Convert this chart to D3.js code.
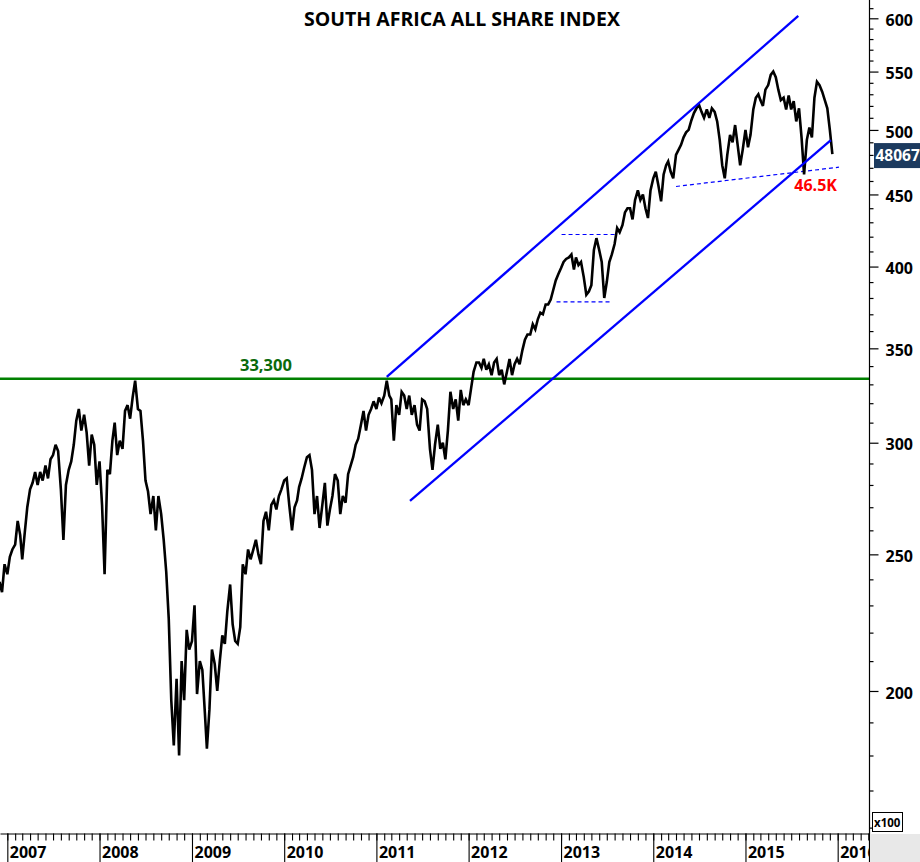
<!DOCTYPE html>
<html><head><meta charset="utf-8">
<script src="https://cdn.jsdelivr.net/npm/d3@7"></script>
<style>html,body{margin:0;padding:0;background:#fff;} svg{display:block;}</style>
</head><body>
<svg id="chart" width="920" height="862"></svg>
<script>
// ---------- DATA ----------
const title = "SOUTH AFRICA ALL SHARE INDEX";
// closes on the 1st, 11th and 21st of each month (index points)
const close2006 = [23900, 23500, 24600];                       // Dec 2006
const close2007 = [24200, 24900, 25200, 25400, 26400, 25800, 24800, 25900, 27000,
                   27800, 28100, 28600, 28000, 28600, 28200, 28900, 28300, 29200,
                   29400, 29900, 29600, 27800, 25600, 28000, 28700, 29100, 29900,
                   31100, 31700, 30600, 31400, 30500, 28900, 30400, 29900, 28000];
const close2008 = [29100, 27100, 24200, 28700, 28500, 30100, 31000, 29400, 30100,
                   29700, 31600, 31900, 31200, 32300, 33200, 31700, 31600, 30100,
                   28200, 27700, 26700, 27500, 26000, 27500, 26700, 25600, 24300,
                   22500, 19700, 18300, 20400, 18000, 21000, 19700, 22100, 21400];
const close2009 = [21700, 23000, 19900, 21000, 20700, 19300, 18200, 19400, 21400,
                   20900, 20000, 21000, 21900, 21600, 22800, 23800, 22300, 21700,
                   21600, 22200, 24600, 24200, 25200, 24800, 25200, 25600, 25000,
                   24600, 26400, 26800, 26000, 27100, 27300, 26900, 27500, 27800];
const close2010 = [28200, 28300, 27100, 26000, 27000, 27300, 27900, 28300, 28800,
                   29300, 29400, 28700, 26700, 27500, 26100, 27100, 28100, 26200,
                   26900, 27500, 28500, 28200, 26700, 27500, 27200, 28500, 28900,
                   29300, 29900, 30200, 30900, 31600, 30600, 31400, 31700, 32100];
const close2011 = [31700, 32300, 32000, 32400, 33200, 32400, 32200, 30100, 31900,
                   31400, 32600, 32400, 31700, 32400, 31400, 31900, 30900, 30600,
                   32200, 32100, 31700, 29700, 28700, 29900, 30900, 29700, 30000,
                   29200, 30600, 32600, 31700, 32200, 31100, 32700, 31900, 32200];
const close2012 = [31900, 32800, 33700, 34200, 34200, 33900, 34400, 33800, 34100,
                   33500, 34200, 34400, 33500, 33800, 33000, 33700, 34400, 33500,
                   34100, 34400, 34100, 34900, 35500, 35800, 35800, 36400, 36100,
                   36700, 37100, 37000, 37600, 37600, 37900, 38500, 39100, 39500];
const close2013 = [39900, 40300, 40500, 40600, 40800, 39800, 40600, 40100, 40300,
                   39300, 38200, 38400, 38800, 41100, 41900, 41100, 40300, 38000,
                   39000, 40300, 40800, 41500, 42600, 42300, 42800, 43700, 44000,
                   44000, 43200, 44600, 45300, 44600, 45000, 44000, 43300, 45300];
const close2014 = [46200, 46700, 45700, 44500, 46500, 47200, 47500, 46700, 46200,
                   48000, 48400, 48800, 49400, 49800, 50000, 50800, 51400, 51800,
                   52100, 51500, 51000, 51700, 51000, 51800, 51500, 50700, 49200,
                   47200, 46200, 48000, 49600, 49000, 50400, 48800, 47200, 48400];
const close2015 = [50000, 48600, 49600, 51700, 52700, 53000, 52500, 52000, 53400,
                   53800, 54700, 55000, 54500, 53400, 52500, 52700, 51700, 52900,
                   51700, 52400, 50700, 51800, 49400, 46500, 49200, 50200, 49400,
                   52700, 54100, 53800, 53200, 52500, 51800, 50000];   // ... Dec 1
const lastDate = "2015-12-11";
const lastClose = 48067;

const yearLabels = ["2007","2008","2009","2010","2011","2012","2013","2014","2015","2016"];
const yMajorTicks = [200, 250, 300, 350, 400, 450, 500, 550, 600];   // x100
const yMinorTicks = [160,170,180,190,210,220,230,240,260,270,280,290,310,320,330,340,
                     360,370,380,390,410,420,430,440,460,470,480,490,510,520,530,540,560,570,580,590,610];
const unitLabel = "x100";

const resistanceLevel = 33300;
const resistanceLabel = "33,300";
const supportLabel = "46.5K";
const upperChannel = [["2011-02-11", 33400], ["2015-07-29", 60230]];
const lowerChannel = [["2011-05-14", 27280], ["2015-12-05", 49170]];
const supportDashed = [["2014-04-01", 45590], ["2016-01-06", 47050]];
const rangeTop2013 = [["2013-01-03", 42150], ["2013-08-02", 42150]];
const rangeBottom2013 = [["2012-12-14", 37760], ["2013-07-20", 37760]];

// ---------- BUILD SERIES ----------
const closes = [].concat(close2006, close2007, close2008, close2009, close2010,
                         close2011, close2012, close2013, close2014, close2015, [lastClose]);
const sampleDays = [1, 11, 21];
const dates = [];
{
  let y = 2006, m = 11;
  outer: while (true) {
    for (const d of sampleDays) {
      if (dates.length >= closes.length - 1) break outer;
      dates.push(new Date(Date.UTC(y, m, d)));
    }
    m++; if (m > 11) { m = 0; y++; }
  }
  dates.push(new Date(lastDate + "T00:00:00Z"));
}
const series = closes.map((v, i) => ({ date: dates[i], v }));
const parse = s => new Date(s + "T00:00:00Z");

// ---------- LAYOUT ----------
const W = 920, H = 862;
const plotR = 869, plotB = 833;
const FONT = "'Open Sans', 'DejaVu Sans', sans-serif";

const x = d3.scaleUtc()
  .domain([new Date(Date.UTC(2006, 11, 3)), new Date(Date.UTC(2016, 4, 4))])
  .range([0, plotR]);
const y = d3.scaleLog()
  .domain([15860, 61820])
  .range([plotB, 0]);

const svg = d3.select("#chart");
svg.append("rect").attr("width", W).attr("height", H).attr("fill", "#fff");

svg.append("defs").append("clipPath").attr("id", "plotclip")
  .append("rect").attr("x", 0).attr("y", 0).attr("width", plotR).attr("height", plotB);

const plot = svg.append("g").attr("clip-path", "url(#plotclip)");

// resistance line
plot.append("line")
  .attr("x1", 0).attr("x2", plotR)
  .attr("y1", y(resistanceLevel)).attr("y2", y(resistanceLevel))
  .attr("stroke", "#008000").attr("stroke-width", 2.5);

// dashed lines
const segLine = d3.line().x(d => x(parse(d[0]))).y(d => y(d[1]));
[supportDashed, rangeTop2013, rangeBottom2013].forEach(seg => {
  plot.append("path").attr("d", segLine(seg))
    .attr("fill", "none").attr("stroke", "#0000ff").attr("stroke-width", 1.2)
    .attr("stroke-dasharray", "4,3");
});

// price line
plot.append("path")
  .datum(series)
  .attr("d", d3.line().x(d => x(d.date)).y(d => y(d.v)))
  .attr("fill", "none").attr("stroke", "#000").attr("stroke-width", 2.6)
  .attr("stroke-linejoin", "miter").attr("stroke-miterlimit", 3);

// channel lines
[upperChannel, lowerChannel].forEach(seg => {
  plot.append("path").attr("d", segLine(seg))
    .attr("fill", "none").attr("stroke", "#0000ff").attr("stroke-width", 2.3);
});

// annotations
svg.append("text").text(resistanceLabel)
  .attr("x", 240).attr("y", y(resistanceLevel) - 8)
  .attr("font-family", FONT).attr("font-weight", 700).attr("font-size", 16.5)
  .attr("fill", "#0b6a0b");
svg.append("text").text(supportLabel)
  .attr("x", x(parse(supportDashed[1][0])) - 2).attr("y", y(supportDashed[1][1]) + 24)
  .attr("text-anchor", "end")
  .attr("font-family", FONT).attr("font-weight", 700).attr("font-size", 16)
  .attr("fill", "#ff0000");

// title
svg.append("text").text(title)
  .attr("x", 462).attr("y", 26).attr("text-anchor", "middle")
  .attr("font-family", FONT).attr("font-weight", 700).attr("font-size", 19.5)
  .attr("fill", "#000");

// ---------- RIGHT AXIS ----------
svg.append("line").attr("x1", plotR + 0.5).attr("x2", plotR + 0.5).attr("y1", 0).attr("y2", H)
  .attr("stroke", "#000").attr("stroke-width", 1.2);

const yMinorAxis = d3.axisRight(y).tickValues(yMinorTicks.map(v => v * 100))
  .tickSize(4).tickSizeOuter(0).tickFormat("");
const gMinor = svg.append("g").attr("transform", `translate(${plotR + 0.5},0)`).call(yMinorAxis);
gMinor.select(".domain").remove();

const yMajorAxis = d3.axisRight(y).tickValues(yMajorTicks.map(v => v * 100))
  .tickSize(9).tickSizeOuter(0).tickPadding(7).tickFormat(d => String(d / 100));
const gMajor = svg.append("g").attr("transform", `translate(${plotR + 0.5},0)`).call(yMajorAxis);
gMajor.select(".domain").remove();
gMajor.selectAll("line").attr("stroke", "#000").attr("stroke-width", 1.2);
gMinor.selectAll("line").attr("stroke", "#000").attr("stroke-width", 1.2);
gMajor.selectAll("text")
  .attr("font-family", FONT).attr("font-weight", 700).attr("font-size", 16)
  .attr("fill", "#000").attr("dy", "0.45em");

// ---------- BOTTOM AXIS ----------
const monthTicks = d3.utcMonth.range(x.domain()[0], x.domain()[1]);
const xMinorAxis = d3.axisBottom(x).tickValues(monthTicks).tickSize(7).tickSizeOuter(0).tickFormat("");
const gx = svg.append("g").attr("transform", `translate(0,${plotB + 0.5})`).call(xMinorAxis);
gx.selectAll("line").attr("stroke", "#000").attr("stroke-width", 1.1);
gx.select(".domain").attr("stroke", "#000").attr("stroke-width", 1.2);

const yearDates = yearLabels.map(s => new Date(Date.UTC(+s, 0, 1)));
const xMajorAxis = d3.axisBottom(x).tickValues(yearDates).tickSize(H - plotB).tickSizeOuter(0).tickFormat("");
const gxM = svg.append("g").attr("transform", `translate(0,${plotB + 0.5})`).call(xMajorAxis);
gxM.select(".domain").remove();
gxM.selectAll("line").attr("stroke", "#000").attr("stroke-width", 1.1);

svg.append("g").selectAll("text").data(yearLabels).join("text")
  .text(d => d)
  .attr("x", (d, i) => x(yearDates[i]) + 2.5)
  .attr("y", 857.5)
  .attr("font-family", FONT).attr("font-weight", 700).attr("font-size", 16)
  .attr("fill", "#000");

// corner box
svg.append("rect").attr("x", plotR + 1).attr("y", plotB + 1).attr("width", W - plotR - 1).attr("height", H - plotB - 1)
  .attr("fill", "#e8e8e8");

// unit box
svg.append("rect").attr("x", 872.5).attr("y", 812.5).attr("width", 30).attr("height", 19)
  .attr("fill", "#fff").attr("stroke", "#000").attr("stroke-width", 1);
svg.append("text").text(unitLabel).attr("x", 874).attr("y", 826.5)
  .attr("font-family", FONT).attr("font-weight", 700).attr("font-size", 11.5).attr("fill", "#000");

// last price label
const yl = y(lastClose);
svg.append("rect").attr("x", 874).attr("y", yl - 11).attr("width", 46).attr("height", 25)
  .attr("fill", "#1c3a5e");
svg.append("text").text(String(lastClose)).attr("x", 875.5).attr("y", yl + 7)
  .attr("font-family", FONT).attr("font-weight", 700).attr("font-size", 15.5).attr("fill", "#fff");
</script>
</body></html>
